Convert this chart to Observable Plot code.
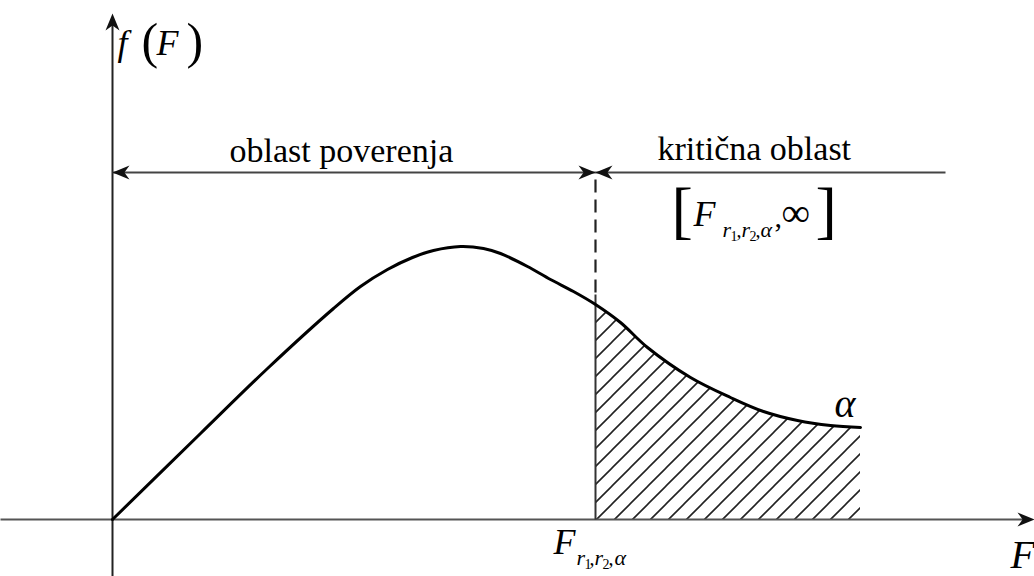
<!DOCTYPE html>
<html>
<head>
<meta charset="utf-8">
<script src="https://cdn.jsdelivr.net/npm/d3@7"></script>
<script src="https://cdn.jsdelivr.net/npm/@observablehq/plot@0.6"></script>
<style>
  html, body { margin: 0; padding: 0; background: #fff; }
  #chart svg { display: block; }
</style>
</head>
<body>
<div id="chart"></div>
<script>
// Schematic F-distribution density (units: horizontal / vertical distance from the axes origin)
const curveX = [0, 88, 155, 221, 248, 275, 300, 321, 348, 371, 388, 415, 438, 461, 483, 508, 535, 578, 618, 651, 685, 718, 748];
const curveY = [0, 86, 151, 211, 233, 250, 262, 269, 273, 271, 266, 253, 240, 228, 215, 197, 172, 142, 122, 108, 99, 94, 92];

const critX = 483;        // F_{r1,r2,alpha}
const critY = 215;        // density at critical value
const arrowLevel = 347;   // height of the region arrows
const critLineEnd = 833;  // end of the "kritična oblast" line
const xAxisExtent = [-112, 922];
const yAxisExtent = [-57, 506];

// Text labels: text, x, baseline y, size, italic
const labelText  = ["f", "(", "F", ")", "oblast poverenja", "kritična oblast",
  "[", "F", "r", "1", ",", "r", "2", ",", "α", ",", "∞", "]",
  "F", "r", "1", ",", "r", "2", ",", "α",
  "α", "F"];
const labelX = [5, 29, 44, 74, 117, 545,
  559, 581, 610, 618, 624, 629, 637, 643, 648, 662, 669, 703,
  441, 464, 472, 477, 482, 490, 496, 502,
  722, 898];
const labelY = [465, 462, 465, 462, 358, 360,
  289, 294, 283, 279, 283, 283, 279, 283, 283, 293, 294, 289,
  -34, -45, -49, -45, -45, -49, -45, -45,
  103, -48];
const labelSize = [36, 50, 36, 50, 34, 34,
  64, 36, 22, 14, 20, 22, 14, 20, 22, 30, 40, 64,
  36, 22, 14, 20, 22, 14, 20, 22,
  40, 40];
const labelItalic = [1, 0, 1, 0, 0, 0,
  0, 1, 1, 0, 0, 1, 0, 0, 1, 0, 0, 0,
  1, 1, 0, 0, 1, 0, 0, 1,
  1, 1];

const curve = curveX.map((x, i) => ({x, y: curveY[i]}));
const tail = curve.filter(d => d.x >= critX);
const labels = labelText.map((t, i) => ({t, x: labelX[i], y: labelY[i], size: labelSize[i], italic: labelItalic[i]}));

// arrowhead symbol: tip at origin, pointing right
const arrowHead = {
  draw(ctx) {
    const L = 17, W = 7;
    ctx.moveTo(0, 0);
    ctx.lineTo(-L, -W);
    ctx.lineTo(-L * 0.7, 0);
    ctx.lineTo(-L, W);
    ctx.closePath();
  }
};

const heads = [
  {x: xAxisExtent[1], y: 0, r: 0},
  {x: 0, y: yAxisExtent[1], r: -90},
  {x: 0, y: arrowLevel, r: 180},
  {x: critX, y: arrowLevel, r: 0},
  {x: critX, y: arrowLevel, r: 180}
];

const font = "'Liberation Serif', 'Times New Roman', serif";

const plot = Plot.plot({
  width: 1034,
  height: 576,
  margin: 0,
  style: {fontFamily: font},
  x: {domain: xAxisExtent, axis: null},
  y: {domain: [-57, 519], axis: null},
  marks: [
    // hatched critical region
    Plot.areaY(tail, {x: "x", y: "y", fill: "url(#hatch)", curve: "catmull-rom"}),
    // x axis
    Plot.link([{x1: xAxisExtent[0], x2: xAxisExtent[1] - 8, y: 0}], {x1: "x1", x2: "x2", y1: "y", y2: "y", stroke: "#555", strokeWidth: 2.2}),
    // y axis
    Plot.link([{x: 0, y1: yAxisExtent[0], y2: yAxisExtent[1] - 8}], {x1: "x", x2: "x", y1: "y1", y2: "y2", stroke: "#222", strokeWidth: 2}),
    // critical value line: solid under the curve, dashed above
    Plot.link([{x: critX, y1: 0, y2: critY + 10}], {x1: "x", x2: "x", y1: "y1", y2: "y2", stroke: "#333", strokeWidth: 2}),
    Plot.link([{x: critX, y1: critY + 12, y2: arrowLevel}], {x1: "x", x2: "x", y1: "y1", y2: "y2", stroke: "#222", strokeWidth: 2.2, strokeDasharray: "13,7"}),
    // region arrows
    Plot.link([{x1: 0, x2: critLineEnd, y: arrowLevel}], {x1: "x1", x2: "x2", y1: "y", y2: "y", stroke: "#444", strokeWidth: 1.8}),
    Plot.dot(heads, {x: "x", y: "y", rotate: "r", symbol: arrowHead, fill: "#111", stroke: "none"}),
    // density curve
    Plot.line(curve, {x: "x", y: "y", stroke: "#000", strokeWidth: 3, curve: "catmull-rom"}),
    // labels
    Plot.text(labels.filter(d => !d.italic), {x: "x", y: "y", text: "t", fontSize: "size", textAnchor: "start", lineAnchor: "bottom", fontFamily: font, fill: "#000"}),
    Plot.text(labels.filter(d => d.italic), {x: "x", y: "y", text: "t", fontSize: "size", textAnchor: "start", lineAnchor: "bottom", fontFamily: font, fontStyle: "italic", fill: "#000"})
  ]
});

// hatch pattern definition
const defs = d3.select(plot).insert("defs", ":first-child");
const pat = defs.append("pattern")
  .attr("id", "hatch")
  .attr("patternUnits", "userSpaceOnUse")
  .attr("width", 18).attr("height", 18);
pat.append("path")
  .attr("d", "M0,18L18,0M-4.5,4.5L4.5,-4.5M13.5,22.5L22.5,13.5")
  .attr("stroke", "#222").attr("stroke-width", 1.6).attr("fill", "none");

document.getElementById("chart").appendChild(plot);
</script>
</body>
</html>
